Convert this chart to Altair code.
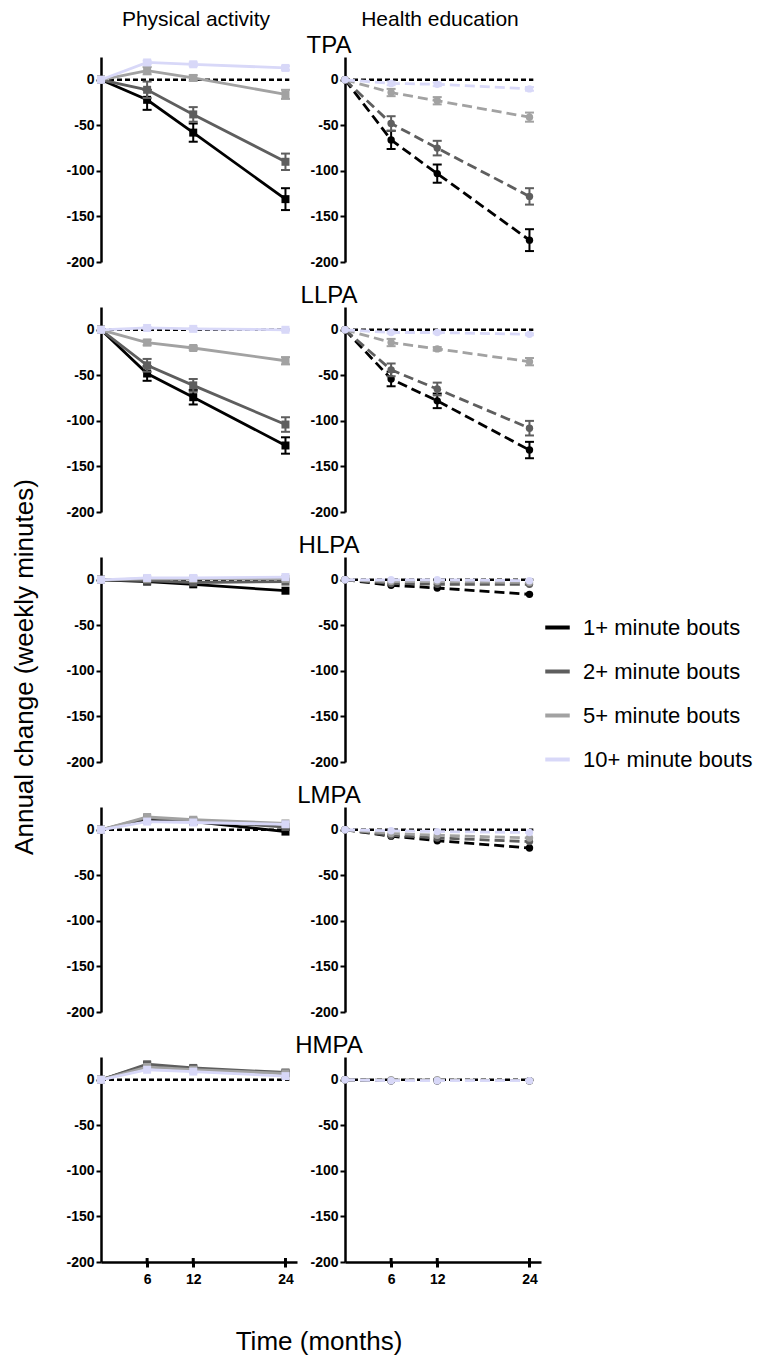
import altair as alt
import pandas as pd

FONT = "Liberation Sans"
MONTHS = [0, 6, 12, 24]
BOUTS = ["1+ minute bouts", "2+ minute bouts", "5+ minute bouts", "10+ minute bouts"]
COLORS = ["#000000", "#5e5e5e", "#a2a2a2", "#d8d8f8"]
MEASURES = ["TPA", "LLPA", "HLPA", "LMPA", "HMPA"]
GROUPS = ["Physical activity", "Health education"]
Y_TICKS = [0, -50, -100, -150, -200]
X_TICKS = [6, 12, 24]

# each list: series 1+, 2+, 5+, 10+ ; values at months 0, 6, 12, 24
TPA_PA = [[0, -22, -58, -131], [0, -11, -38, -90], [0, 10, 2, -16], [0, 19, 17, 13]]
TPA_PA_ERR = [[0, 11, 10, 12], [0, 9, 8, 9], [0, 4, 3, 5], [0, 2, 2, 2]]
TPA_HE = [[0, -66, -103, -176], [0, -48, -75, -128], [0, -14, -23, -41], [0, -4, -5, -10]]
TPA_HE_ERR = [[0, 10, 10, 12], [0, 8, 8, 9], [0, 4, 4, 5], [0, 2, 2, 2]]

LLPA_PA = [[0, -48, -74, -127], [0, -39, -61, -104], [0, -14, -20, -34], [0, 2, 1, 0]]
LLPA_PA_ERR = [[0, 8, 8, 9], [0, 7, 7, 8], [0, 3, 2, 4], [0, 1, 1, 1]]
LLPA_HE = [[0, -54, -78, -132], [0, -44, -65, -108], [0, -14, -21, -35], [0, -3, -3, -5]]
LLPA_HE_ERR = [[0, 8, 8, 9], [0, 7, 7, 8], [0, 4, 2, 4], [0, 1, 1, 1]]

HLPA_PA = [[0, -2, -5, -12], [0, -1, -3, -2], [0, 1, 1, 1], [0, 2, 2, 3]]
HLPA_PA_ERR = [[0, 0, 0, 0], [0, 0, 0, 0], [0, 0, 0, 0], [0, 0, 0, 0]]
HLPA_HE = [[0, -6, -9, -16], [0, -4, -5, -5], [0, -2, -2, -3], [0, 0, 0, -1]]
HLPA_HE_ERR = [[0, 0, 0, 0], [0, 0, 0, 0], [0, 0, 0, 0], [0, 0, 0, 0]]

LMPA_PA = [[0, 11, 9, -2], [0, 13, 10, 3], [0, 14, 11, 7], [0, 9, 8, 6]]
LMPA_PA_ERR = [[0, 0, 0, 0], [0, 0, 0, 0], [0, 0, 0, 0], [0, 0, 0, 0]]
LMPA_HE = [[0, -7, -12, -20], [0, -6, -9, -13], [0, -4, -6, -9], [0, -1, -2, -3]]
LMPA_HE_ERR = [[0, 0, 0, 0], [0, 0, 0, 0], [0, 0, 0, 0], [0, 0, 0, 0]]

HMPA_PA = [[0, 16, 12, 7], [0, 17, 13, 8], [0, 14, 11, 7], [0, 11, 9, 4]]
HMPA_PA_ERR = [[0, 0, 0, 0], [0, 0, 0, 0], [0, 0, 0, 0], [0, 0, 0, 0]]
HMPA_HE = [[0, -1, -1, -1], [0, -1, -1, -1], [0, 0, 0, -1], [0, -1, -1, -1]]
HMPA_HE_ERR = [[0, 0, 0, 0], [0, 0, 0, 0], [0, 0, 0, 0], [0, 0, 0, 0]]

PANELS = {
    ("TPA", 0): (TPA_PA, TPA_PA_ERR), ("TPA", 1): (TPA_HE, TPA_HE_ERR),
    ("LLPA", 0): (LLPA_PA, LLPA_PA_ERR), ("LLPA", 1): (LLPA_HE, LLPA_HE_ERR),
    ("HLPA", 0): (HLPA_PA, HLPA_PA_ERR), ("HLPA", 1): (HLPA_HE, HLPA_HE_ERR),
    ("LMPA", 0): (LMPA_PA, LMPA_PA_ERR), ("LMPA", 1): (LMPA_HE, LMPA_HE_ERR),
    ("HMPA", 0): (HMPA_PA, HMPA_PA_ERR), ("HMPA", 1): (HMPA_HE, HMPA_HE_ERR),
}

W, H = 196, 205
XS = alt.Scale(domain=[0, 25.5], nice=False, zero=False)
YS = alt.Scale(domain=[-200, 25], nice=False, zero=False)

LEGEND = alt.Legend(
    orient="none", legendX=442, legendY=556, title=None,
    symbolType="stroke", symbolStrokeWidth=4, symbolSize=600,
    labelFontSize=22, labelFont=FONT, labelColor="#000000",
    rowPadding=18, labelOffset=11, labelLimit=0,
)


def text_layer(txt, x, y, size, angle=0, baseline="middle"):
    return alt.Chart(pd.DataFrame({"t": [txt]})).mark_text(
        align="center", baseline=baseline, fontSize=size, font=FONT,
        color="#000000", angle=angle,
    ).encode(x=alt.value(x), y=alt.value(y), text="t:N")


def panel(measure, gi, row_idx):
    means, errs = PANELS[(measure, gi)]
    bottom = row_idx == len(MEASURES) - 1
    if bottom:
        xaxis = alt.Axis(values=X_TICKS, title=None, grid=False, tickSize=5,
                         tickWidth=3, labelFontSize=14, labelFontWeight="bold",
                         labelPadding=5, domainWidth=2.5)
    else:
        xaxis = None
    yaxis = alt.Axis(values=Y_TICKS, title=None, grid=False,
                     labelExpr="'' + datum.value")
    layers = []
    zero = alt.Chart(pd.DataFrame({"z": [0]})).mark_rule(
        color="#000000", strokeDash=[5, 3], strokeWidth=2.5
    ).encode(
        x=alt.X("z:Q", scale=XS, axis=xaxis, title=None),
        x2=alt.datum(24.5),
        y=alt.Y("z:Q", scale=YS, axis=yaxis, title=None),
    )
    layers.append(zero)
    if bottom:
        inner_ticks = alt.Chart(pd.DataFrame({"m": X_TICKS, "b": [-200] * 3})).mark_rule(
            color="#000000", strokeWidth=3, y2Offset=-4
        ).encode(x=alt.X("m:Q", title=None), y=alt.Y("b:Q", title=None), y2="b:Q")
        layers.append(inner_ticks)
    dash = [] if gi == 0 else [10, 5]
    for bi, b in enumerate(BOUTS):
        rows = []
        for mi, m in enumerate(MONTHS):
            v = means[bi][mi]
            e = errs[bi][mi]
            rows.append(dict(bout=b, month=m, value=v, lo=v - e, hi=v + e, err=e))
        df = pd.DataFrame(rows)
        c = COLORS[bi]
        base = alt.Chart(df)
        xenc = alt.X("month:Q", scale=XS, title=None)
        if gi == 0:
            color = alt.Color("bout:N", scale=alt.Scale(domain=BOUTS, range=COLORS),
                              legend=LEGEND)
            line = base.mark_line(strokeWidth=2.8).encode(
                x=xenc, y=alt.Y("value:Q", scale=YS, title=None), color=color)
        else:
            line = base.mark_line(strokeWidth=2.8, strokeDash=dash, color=c).encode(
                x=xenc, y=alt.Y("value:Q", scale=YS, title=None))
        eb = base.transform_filter("datum.err > 0")
        rule = eb.mark_rule(color=c, strokeWidth=2).encode(
            x=xenc, y=alt.Y("lo:Q", title=None), y2="hi:Q")
        cap_hi = eb.mark_rule(color=c, strokeWidth=2, xOffset=-4.5, x2Offset=4.5).encode(
            x=xenc, x2="month:Q", y=alt.Y("hi:Q", title=None))
        cap_lo = eb.mark_rule(color=c, strokeWidth=2, xOffset=-4.5, x2Offset=4.5).encode(
            x=xenc, x2="month:Q", y=alt.Y("lo:Q", title=None))
        pts = base.mark_point(shape="square" if gi == 0 else "circle", filled=True,
                              size=64 if gi == 0 else 55, opacity=1, color=c).encode(
            x=xenc, y=alt.Y("value:Q", title=None))
        layers += [line, rule, cap_hi, cap_lo, pts]
    if gi == 1:
        layers.append(text_layer(measure, -16, 1, 24, baseline="bottom"))
    if row_idx == 0:
        layers.append(text_layer(GROUPS[gi], 95, -37, 21))
    if gi == 0 and measure == "HLPA":
        layers.append(text_layer("Annual change (weekly minutes)", -76, 110, 26, angle=270))
    if gi == 0 and bottom:
        layers.append(text_layer("Time (months)", 218, 285, 26))
    return alt.layer(*layers).properties(width=W, height=H)


panels = []
for ri, m in enumerate(MEASURES):
    for gi in range(2):
        panels.append(panel(m, gi, ri))

chart = alt.ConcatChart(
    concat=panels, columns=2, spacing={"row": 45, "column": 48}, bounds="flush"
).properties(
    padding={"left": 3, "top": 1, "right": 5, "bottom": 5}
).configure_view(stroke=None).configure_axis(
    domainColor="#000000", domainWidth=2.5, tickColor="#000000", tickWidth=2,
    tickSize=5, labelColor="#000000", labelFont=FONT, labelFontSize=14,
    labelFontWeight="bold", labelPadding=2, grid=False,
)

chart.save("out.html", embed_options={"renderer": "svg", "actions": False})
